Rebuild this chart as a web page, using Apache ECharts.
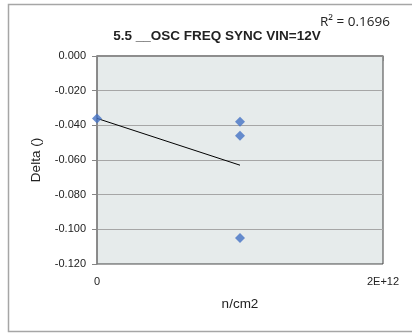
<!DOCTYPE html>
<html>
<head>
<meta charset="utf-8">
<script src="https://cdn.jsdelivr.net/npm/echarts@6/dist/echarts.min.js"></script>
<style>
  html, body { margin: 0; padding: 0; background: #fff; }
  #chart { width: 412px; height: 335px; }
</style>
</head>
<body>
<div id="chart"></div>
<script>
// fluence (n/cm2) and delta readings
var fluence = [0, 1e12, 1e12, 1e12];
var delta = [-0.036, -0.038, -0.046, -0.105];
var yTicks = [0, -0.02, -0.04, -0.06, -0.08, -0.1, -0.12];
var xTickLabels = ["0", "2E+12"];
var r2Text = "R\u00b2 = 0.1696";

// least squares trend line
var n = fluence.length, sx = 0, sy = 0, sxx = 0, sxy = 0;
for (var i = 0; i < n; i++) {
  sx += fluence[i]; sy += delta[i];
  sxx += fluence[i] * fluence[i]; sxy += fluence[i] * delta[i];
}
var slope = (n * sxy - sx * sy) / (n * sxx - sx * sx);
var icpt = (sy - slope * sx) / n;
var xMin = Math.min.apply(null, fluence), xMax = Math.max.apply(null, fluence);
var trend = [[xMin, icpt + slope * xMin], [xMax, icpt + slope * xMax]];

var chart = echarts.init(document.getElementById("chart"));
var font = "Liberation Sans";
var option = {
  backgroundColor: "#fff",
  animation: false,
  graphic: [{
    type: "rect",
    shape: { x: 8.5, y: 4.5, width: 420, height: 327 },
    style: { fill: "none", stroke: "#a6a6a6", lineWidth: 1.5 },
    silent: true
  }, {
    type: "text",
    left: 320, top: 15,
    style: { text: r2Text, font: "13.5px 'Open Sans'", fill: "#222" }
  }],
  title: {
    text: "5.5 __OSC FREQ SYNC VIN=12V",
    left: 212, top: 24, textAlign: "center",
    textStyle: { fontFamily: font, fontSize: 13.5, fontWeight: "bold", color: "#222" }
  },
  grid: {
    left: 97, top: 56, width: 286, height: 208,
    show: true, backgroundColor: "#e6ebeb",
    borderColor: "#404040", borderWidth: 1
  },
  xAxis: {
    type: "value", min: 0, max: 2e12, interval: 2e12,
    name: "n/cm2", nameLocation: "middle", nameGap: 33,
    nameTextStyle: { fontFamily: font, fontSize: 13.5, color: "#222" },
    axisLine: { lineStyle: { color: "#868686", width: 1.5 } },
    axisTick: { show: true, length: 5, lineStyle: { color: "#868686" } },
    axisLabel: {
      fontFamily: font, fontSize: 11, color: "#222", margin: 12,
      formatter: function (v) { return v === 0 ? xTickLabels[0] : xTickLabels[1]; }
    },
    splitLine: { show: false }
  },
  yAxis: {
    type: "value", min: yTicks[yTicks.length - 1], max: yTicks[0], interval: 0.02,
    name: "Delta ()", nameLocation: "middle", nameGap: 54,
    nameTextStyle: { fontFamily: font, fontSize: 13.5, color: "#222" },
    axisLine: { show: true, lineStyle: { color: "#868686", width: 1.5 } },
    axisTick: { show: true, length: 5, lineStyle: { color: "#868686" } },
    axisLabel: {
      fontFamily: font, fontSize: 11, color: "#222", margin: 11,
      formatter: function (v) { return v.toFixed(3); }
    },
    splitLine: { show: true, lineStyle: { color: "#a6a6a6", width: 1.2 } }
  },
  series: [{
    type: "line",
    data: trend,
    symbol: "none",
    lineStyle: { color: "#000", width: 1 },
    z: 2
  }, {
    type: "scatter",
    data: fluence.map(function (x, i) { return [x, delta[i]]; }),
    symbol: "diamond",
    symbolSize: 10,
    itemStyle: { color: "#4472c4" },
    z: 3
  }]
};
chart.setOption(option);
</script>
</body>
</html>
